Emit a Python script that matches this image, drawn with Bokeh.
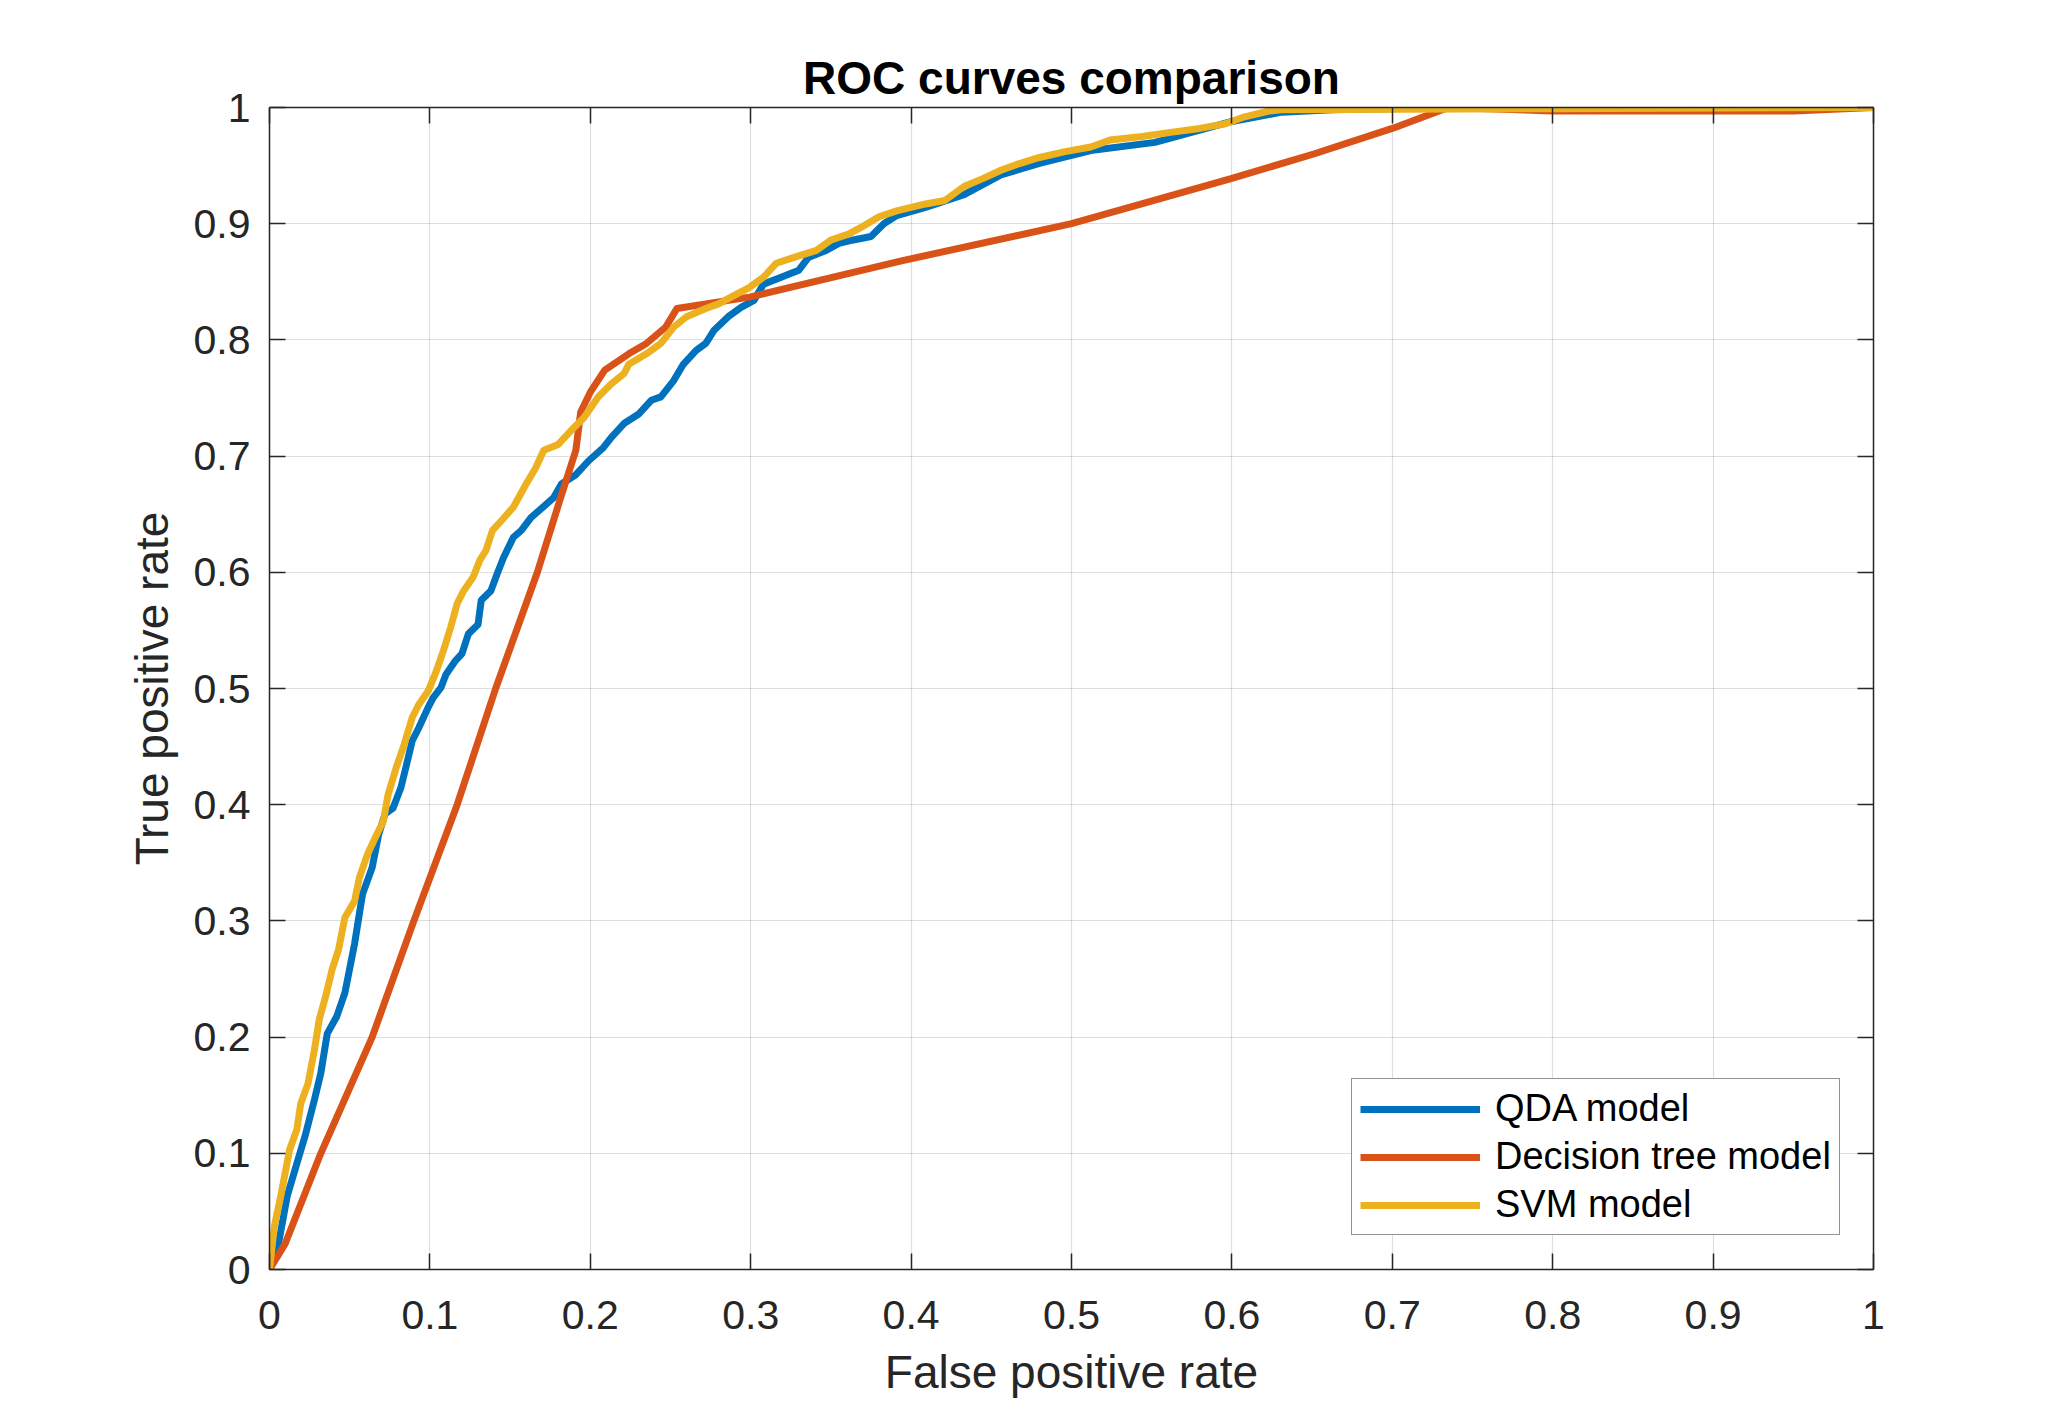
from bokeh.plotting import figure
from bokeh.models import Range1d, FixedTicker, LinearAxis, Legend, LegendItem
from bokeh.embed import file_html
from bokeh.resources import INLINE

# ---------------- data ----------------
qda_fpr = [0, 0.0056, 0.011, 0.017, 0.022, 0.028, 0.032, 0.036, 0.042, 0.047, 0.053, 0.058, 0.064,
           0.068, 0.072, 0.077, 0.082, 0.085, 0.089, 0.093, 0.099, 0.102, 0.107, 0.110, 0.116, 0.120,
           0.124, 0.130, 0.132, 0.138, 0.142, 0.146, 0.152, 0.157, 0.163, 0.168, 0.177, 0.182, 0.191,
           0.199, 0.208, 0.213, 0.221, 0.230, 0.238, 0.244, 0.252, 0.258, 0.266, 0.272, 0.277, 0.286,
           0.294, 0.302, 0.308, 0.319, 0.330, 0.336, 0.347, 0.355, 0.364, 0.375, 0.383, 0.391, 0.409,
           0.433, 0.456, 0.480, 0.512, 0.552, 0.600, 0.631, 0.663, 0.695, 0.75, 0.8, 1.0]
qda_tpr = [0, 0.022, 0.063, 0.091, 0.114, 0.146, 0.169, 0.203, 0.218, 0.238, 0.280, 0.323, 0.346,
           0.374, 0.392, 0.397, 0.415, 0.432, 0.455, 0.466, 0.484, 0.492, 0.501, 0.512, 0.524, 0.530,
           0.547, 0.555, 0.576, 0.584, 0.599, 0.613, 0.630, 0.636, 0.647, 0.653, 0.664, 0.676, 0.684,
           0.696, 0.707, 0.716, 0.728, 0.736, 0.748, 0.751, 0.765, 0.779, 0.791, 0.797, 0.808, 0.820,
           0.828, 0.834, 0.848, 0.854, 0.860, 0.871, 0.877, 0.883, 0.886, 0.889, 0.900, 0.907, 0.914,
           0.925, 0.942, 0.952, 0.963, 0.970, 0.988, 0.996, 0.998, 0.999, 1.0, 1.0, 1.0]

tree_fpr = [0, 0.0097, 0.032, 0.064, 0.090, 0.117, 0.141, 0.167, 0.181, 0.191, 0.194, 0.200, 0.209,
            0.224, 0.235, 0.247, 0.254, 0.300, 0.394, 0.500, 0.536, 0.600, 0.651, 0.700, 0.735,
            0.800, 0.950, 1.0]
tree_tpr = [0, 0.022, 0.100, 0.200, 0.300, 0.400, 0.500, 0.600, 0.662, 0.705, 0.738, 0.755, 0.774,
            0.788, 0.797, 0.811, 0.827, 0.837, 0.868, 0.900, 0.914, 0.939, 0.960, 0.982, 1.0,
            0.997, 0.997, 1.0]

svm_fpr = [0, 0.003, 0.007, 0.0125, 0.017, 0.0195, 0.024, 0.028, 0.031, 0.035, 0.039, 0.043, 0.047,
           0.053, 0.056, 0.061, 0.065, 0.071, 0.074, 0.079, 0.084, 0.089, 0.093, 0.099, 0.104, 0.109,
           0.113, 0.117, 0.121, 0.127, 0.131, 0.135, 0.139, 0.143, 0.152, 0.160, 0.166, 0.171, 0.180,
           0.188, 0.196, 0.205, 0.213, 0.221, 0.224, 0.235, 0.244, 0.252, 0.260, 0.272, 0.280, 0.288,
           0.299, 0.308, 0.316, 0.327, 0.341, 0.350, 0.361, 0.369, 0.380, 0.391, 0.409, 0.421, 0.433,
           0.445, 0.456, 0.468, 0.480, 0.496, 0.512, 0.524, 0.544, 0.564, 0.580, 0.596, 0.608, 0.623,
           0.631, 0.800, 1.0]
svm_tpr = [0, 0.037, 0.063, 0.103, 0.120, 0.143, 0.160, 0.189, 0.215, 0.235, 0.258, 0.275, 0.303,
           0.317, 0.337, 0.357, 0.369, 0.386, 0.409, 0.432, 0.452, 0.475, 0.486, 0.498, 0.515, 0.535,
           0.553, 0.573, 0.584, 0.596, 0.610, 0.619, 0.636, 0.642, 0.656, 0.676, 0.690, 0.705, 0.710,
           0.722, 0.733, 0.751, 0.762, 0.771, 0.779, 0.788, 0.797, 0.811, 0.820, 0.827, 0.831, 0.837,
           0.845, 0.854, 0.866, 0.871, 0.877, 0.886, 0.891, 0.897, 0.906, 0.911, 0.917, 0.920, 0.932,
           0.939, 0.946, 0.952, 0.957, 0.962, 0.966, 0.972, 0.975, 0.979, 0.982, 0.986, 0.992, 0.997,
           0.998, 0.999, 1.0]

series_names = ["QDA model", "Decision tree model", "SVM model"]
series_colors = ["#0072BD", "#D95319", "#EDB120"]
tick_values = [0, 0.1, 0.2, 0.3, 0.4, 0.5, 0.6, 0.7, 0.8, 0.9, 1.0]
tick_labels = ["0", "0.1", "0.2", "0.3", "0.4", "0.5", "0.6", "0.7", "0.8", "0.9", "1"]

# ---------------- figure ----------------
AX = "#262626"
FONT = "Liberation Sans"

p = figure(width=2055, height=1411, output_backend="svg", toolbar_location=None,
           x_range=Range1d(0, 1), y_range=Range1d(0, 1),
           min_border_left=269, min_border_right=182, min_border_top=107, min_border_bottom=142,
           x_axis_label="False positive rate", y_axis_label="True positive rate",
           title="ROC curves comparison")
p.background_fill_color = "white"
p.border_fill_color = "white"
p.outline_line_color = None

p.title.align = "center"
p.title.text_font = FONT
p.title.text_font_size = "46px"
p.title.text_font_style = "bold"
p.title.text_color = "black"
p.title.standoff = 7

labels_map = {v: s for v, s in zip(tick_values, tick_labels)}

def style_axis(ax, show_labels):
    ax.ticker = FixedTicker(ticks=tick_values)
    ax.major_tick_in = 16
    ax.major_tick_out = 0
    ax.minor_tick_in = 0
    ax.minor_tick_out = 0
    ax.axis_line_color = AX
    ax.axis_line_width = 1.5
    ax.major_tick_line_color = AX
    ax.major_tick_line_width = 1.5
    ax.major_label_text_font = FONT
    if show_labels:
        ax.major_label_overrides = labels_map
        ax.major_label_text_font_size = "41px"
        ax.major_label_text_color = AX
    else:
        ax.major_label_text_font_size = "1px"
        ax.major_label_text_color = None
        ax.major_label_standoff = 0
    ax.axis_label_text_font = FONT
    ax.axis_label_text_font_size = "46px"
    ax.axis_label_text_font_style = "normal"
    ax.axis_label_text_color = AX

style_axis(p.xaxis[0], True)
style_axis(p.yaxis[0], True)
p.xaxis[0].major_label_standoff = 31
p.xaxis[0].axis_label_standoff = 14
p.yaxis[0].major_label_standoff = 19
p.yaxis[0].axis_label_standoff = 13

top_axis = LinearAxis()
right_axis = LinearAxis()
style_axis(top_axis, False)
style_axis(right_axis, False)
p.add_layout(top_axis, "above")
p.add_layout(right_axis, "right")

p.xgrid.ticker = FixedTicker(ticks=tick_values)
p.ygrid.ticker = FixedTicker(ticks=tick_values)
p.grid.grid_line_color = "black"
p.grid.grid_line_alpha = 0.13
p.grid.grid_line_width = 1.2

fprs = [qda_fpr, tree_fpr, svm_fpr]
tprs = [qda_tpr, tree_tpr, svm_tpr]
items = []
for name, color, xs, ys in zip(series_names, series_colors, fprs, tprs):
    r = p.line(xs, ys, line_color=color, line_width=7, line_join="round")
    items.append(LegendItem(label=name, renderers=[r]))

legend = Legend(items=items, location=(1082, 34))
legend.label_text_font = FONT
legend.label_text_font_size = "38px"
legend.label_text_color = "black"
legend.glyph_width = 120
legend.glyph_height = 40
legend.label_height = 40
legend.label_standoff = 15
legend.spacing = 5
legend.padding = 8
legend.margin = 0
legend.border_line_color = AX
legend.border_line_width = 1.5
legend.background_fill_color = "white"
legend.background_fill_alpha = 1.0
p.add_layout(legend, "center")

open("out.html", "w").write(file_html(p, INLINE))
